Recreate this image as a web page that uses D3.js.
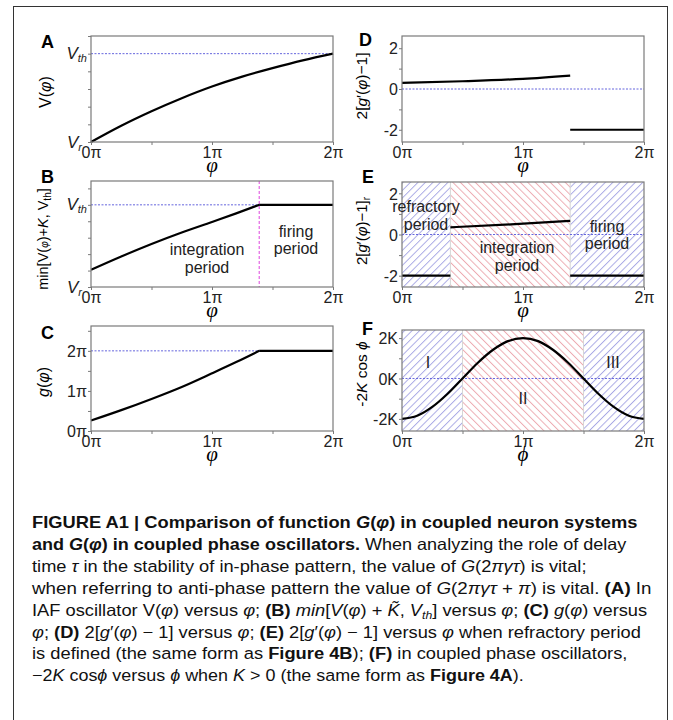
<!DOCTYPE html>
<html>
<head>
<meta charset="utf-8">
<script src="https://cdn.jsdelivr.net/npm/d3@7/dist/d3.min.js"></script>
<style>
  body { margin: 0; background: #fff; }
  svg { display: block; font-family: "Liberation Sans", Arial, sans-serif; }
</style>
</head>
<body>
<svg id="fig" width="673" height="720"></svg>
<script>
// phase axis, in units of pi
const phiTicks = [0, 0.5, 1, 1.5, 2];
const phiLabels = ["0π", "", "1π", "", "2π"];

// A: V(phi)
const phiA = [0, 0.25, 0.5, 0.75, 1, 1.25, 1.5, 1.75, 2];
const valA = [0, 0.92, 1.74, 2.48, 3.14, 3.7, 4.18, 4.62, 5];

// B: min[V(phi)+K, Vth]
const phiB = [0, 0.25, 0.5, 0.75, 1, 1.2, 1.39];
const valB = [1.05, 1.86, 2.62, 3.32, 3.96, 4.48, 5];
const phiB2 = [1.39, 2];
const valB2 = [5, 5];
const fireB = 1.39;

// C: g(phi), in units of pi
const phiC = [0, 0.25, 0.5, 0.75, 1, 1.2, 1.39];
const valC = [0.26, 0.52, 0.8, 1.1, 1.44, 1.72, 2];
const phiC2 = [1.39, 2];
const valC2 = [2, 2];

// D: 2[g'(phi)-1]
const phiD = [0, 0.5, 1, 1.39];
const valD = [0.3, 0.38, 0.5, 0.66];
const phiD2 = [1.39, 2];
const valD2 = [-2, -2];

// E: with refractory period
const phiE1 = [0, 0.4];
const valE1 = [-2, -2];
const phiE2 = [0.4, 0.9, 1.39];
const valE2 = [0.35, 0.49, 0.66];
const phiE3 = [1.39, 2];
const valE3 = [-2, -2];
const regionsE = [[0, 0.4, "blue"], [0.4, 1.39, "red"], [1.39, 2, "blue"]];

// F: -2K cos(phi)
const phiF = [0, 0.125, 0.25, 0.375, 0.5, 0.625, 0.75, 0.875, 1, 1.125, 1.25, 1.375, 1.5, 1.625, 1.75, 1.875, 2];
const valF = [-2, -1.85, -1.41, -0.77, 0, 0.77, 1.41, 1.85, 2, 1.85, 1.41, 0.77, 0, -0.77, -1.41, -1.85, -2];
const regionsF = [[0, 0.5, "blue"], [0.5, 1.5, "red"], [1.5, 2, "blue"]];

const svg = d3.select("#fig");

// outer frame
svg.append("rect").attr("x", 13.5).attr("y", 6.5).attr("width", 654).attr("height", 720)
    .attr("fill", "none").attr("stroke", "#333").attr("stroke-width", 1);

// hatch patterns
const defs = svg.append("defs");
function hatch(id, angle, color) {
    const p = defs.append("pattern").attr("id", id)
        .attr("patternUnits", "userSpaceOnUse")
        .attr("width", 5.3).attr("height", 10)
        .attr("patternTransform", `rotate(${angle})`);
    p.append("rect").attr("width", 5.3).attr("height", 10).attr("fill", "#fff");
    p.append("line").attr("x1", 0.5).attr("x2", 0.5).attr("y1", 0).attr("y2", 10)
        .attr("stroke", color).attr("stroke-width", 0.9);
}
hatch("blue", 45, "#a4a4e4");
hatch("red", -45, "#eca6ae");

function panel(p) {
    const x = d3.scaleLinear().domain([0, 2]).range([p.x0, p.x1]);
    const y = d3.scaleLinear().domain(p.yDomain).range([p.y1, p.y0]);
    const g = svg.append("g");

    if (p.regions) {
        p.regions.forEach(r => {
            g.append("rect").attr("x", x(r[0])).attr("y", p.y0)
                .attr("width", x(r[1]) - x(r[0])).attr("height", p.y1 - p.y0)
                .attr("fill", `url(#${r[2]})`);
        });
        p.regions.slice(1).forEach(r => {
            g.append("line").attr("x1", x(r[0])).attr("x2", x(r[0]))
                .attr("y1", p.y0).attr("y2", p.y1).attr("stroke", "#d6d6d6");
        });
    }

    // reference line
    g.append("line").attr("x1", p.x0).attr("x2", p.x1)
        .attr("y1", y(p.ref)).attr("y2", y(p.ref))
        .attr("stroke", "#6565dd").attr("stroke-width", 1).attr("stroke-dasharray", "2,1.5");
    if (p.vline != null) {
        g.append("line").attr("x1", x(p.vline)).attr("x2", x(p.vline))
            .attr("y1", p.y0).attr("y2", p.y1)
            .attr("stroke", "#dd44dd").attr("stroke-width", 1).attr("stroke-dasharray", "3,2");
    }

    const line = d3.line().x(d => x(d[0])).y(d => y(d[1])).curve(d3.curveMonotoneX);
    p.segments.forEach(s => {
        g.append("path").datum(d3.zip(s[0], s[1])).attr("d", line)
            .attr("fill", "none").attr("stroke", "#000").attr("stroke-width", 2.2);
    });

    // frame
    g.append("rect").attr("x", p.x0).attr("y", p.y0)
        .attr("width", p.x1 - p.x0).attr("height", p.y1 - p.y0)
        .attr("fill", "none").attr("stroke", "#7a7a7a").attr("stroke-width", 1.2);

    // x axis
    const xa = g.append("g").attr("transform", `translate(0,${p.y1})`)
        .call(d3.axisBottom(x).tickValues(phiTicks).tickSize(3)
            .tickFormat((d, i) => phiLabels[i]));
    xa.select(".domain").remove();
    xa.selectAll("line").attr("stroke", "#7a7a7a");
    xa.selectAll("text").attr("y", 16).attr("dy", null)
        .attr("font-size", 16).attr("font-family", "Liberation Sans, Arial, sans-serif").attr("fill", "#222");

    // y axis
    const ya = g.append("g").attr("transform", `translate(${p.x0},0)`)
        .call(d3.axisLeft(y).tickValues(p.yTicks).tickSize(3)
            .tickFormat((d, i) => p.yLabels ? p.yLabels[i] : ""));
    ya.select(".domain").remove();
    ya.selectAll("line").attr("stroke", "#7a7a7a");
    ya.selectAll("text").attr("x", -4).attr("dy", "0.36em")
        .attr("font-size", 16).attr("font-family", "Liberation Sans, Arial, sans-serif").attr("fill", "#222");

    // panel letter
    svg.append("text").attr("x", p.letter[1]).attr("y", p.letter[2])
        .attr("font-size", 18).attr("font-weight", "bold").text(p.letter[0]);

    // x title
    svg.append("text").attr("x", (p.x0 + p.x1) / 2).attr("y", p.y1 + 30)
        .attr("text-anchor", "middle").attr("font-family", "Liberation Serif, serif")
        .attr("font-style", "italic").attr("font-size", 21).text(p.xTitle);

    // y title
    const yt = svg.append("text")
        .attr("transform", `translate(${p.yTitle[0]},${p.yTitle[1]}) rotate(-90)`)
        .attr("text-anchor", "middle").attr("dy", "0.36em").attr("font-size", p.yTitle[3] || 16);
    p.yTitle[2].forEach(t => {
        const s = yt.append("tspan").text(t[0]);
        if (t[1].includes("i")) s.attr("font-style", "italic");
        if (t[1].includes("s")) s.attr("font-size", 10).attr("dy", t[1].includes("d") ? 3 : 0);
        if (t[1].includes("u")) s.attr("dy", -3);
    });
    return { x, y };
}

function vlabel(x, y, sub) {
    const t = svg.append("text").attr("x", x).attr("y", y).attr("text-anchor", "end")
        .attr("font-size", 17).attr("fill", "#222");
    t.append("tspan").attr("font-style", "italic").text("V");
    t.append("tspan").attr("font-size", 11).attr("font-style", "italic").attr("dy", 3).text(sub);
}

function label(lines, cx, y0, step) {
    const t = svg.append("text").attr("text-anchor", "middle").attr("font-size", 16).attr("fill", "#222");
    lines.forEach((l, i) => t.append("tspan").attr("x", cx).attr("y", y0 + i * step).text(l));
}

// A
const A = panel({
    x0: 91, x1: 333, y0: 36, y1: 142, yDomain: [0, 6], yTicks: [0, 1, 2, 3, 4, 5, 6],
    ref: 5, segments: [[phiA, valA]], letter: ["A", 41, 48], xTitle: "φ",
    yTitle: [45, 92, [["V(", ""], ["φ", "i"], [")", ""]]]
});
vlabel(87, A.y(5) + 5, "th");
vlabel(82, A.y(0) + 6, "r");

// B
const B = panel({
    x0: 91, x1: 333, y0: 181, y1: 287, yDomain: [0, 6.45], yTicks: [0, 1, 2, 3, 4, 5, 6],
    ref: 5, vline: fireB, segments: [[phiB, valB], [phiB2, valB2]], letter: ["B", 41, 183], xTitle: "φ",
    yTitle: [43, 239, [["min[V(", ""], ["φ", "is"], [")+", ""], ["K", "i"], [", V", ""], ["th", "sd"], ["]", "u"]], 14.5]
});
vlabel(87, B.y(5) + 5, "th");
vlabel(82, B.y(0) + 6, "r");
label(["integration", "period"], 207, 255, 18);
label(["firing", "period"], 296, 237, 17);

// C
panel({
    x0: 91, x1: 333, y0: 326, y1: 431, yDomain: [0, 2.62], yTicks: [0, 0.5, 1, 1.5, 2, 2.5],
    yLabels: ["0π", "", "1π", "", "2π", ""],
    ref: 2, segments: [[phiC, valC], [phiC2, valC2]], letter: ["C", 41, 339], xTitle: "φ",
    yTitle: [43, 382, [["g", "i"], ["(", ""], ["φ", "i"], [")", ""]]]
});

// D
panel({
    x0: 402, x1: 644, y0: 36, y1: 142, yDomain: [-2.6, 2.6], yTicks: [-2, -1, 0, 1, 2],
    yLabels: ["-2", "", "0", "", "2"],
    ref: 0, segments: [[phiD, valD], [phiD2, valD2]], letter: ["D", 359, 46], xTitle: "φ",
    yTitle: [361, 86, [["2[", ""], ["g", "i"], ["′(", ""], ["φ", "i"], [")−1]", ""]], 15.5]
});

// E
panel({
    x0: 402, x1: 644, y0: 182, y1: 287, yDomain: [-2.55, 2.55], yTicks: [-2, -1, 0, 1, 2],
    yLabels: ["-2", "", "0", "", "2"], regions: regionsE,
    ref: 0, segments: [[phiE1, valE1], [phiE2, valE2], [phiE3, valE3]], letter: ["E", 362, 183], xTitle: "φ",
    yTitle: [362, 231, [["2[", ""], ["g", "i"], ["′(", ""], ["φ", "i"], [")−1]", ""], ["r", "sd"]], 15]
});
label(["refractory", "period"], 426, 212, 18);
label(["integration", "period"], 517, 253, 18);
label(["firing", "period"], 607, 232, 17);

// F
panel({
    x0: 402, x1: 644, y0: 330, y1: 431, yDomain: [-2.6, 2.4], yTicks: [-2, -1, 0, 1, 2],
    yLabels: ["-2K", "", "0K", "", "2K"], regions: regionsF,
    ref: 0, segments: [[phiF, valF]], letter: ["F", 362, 335], xTitle: "ϕ",
    yTitle: [361, 374, [["-2", ""], ["K", "i"], [" cos ", ""], ["ϕ", "i"]], 15.5]
});
label(["I"], 428, 368, 0);
label(["II"], 523, 404, 0);
label(["III"], 613, 368, 0);

// caption
const captionLines = [
    [["FIGURE A1 | Comparison of function ", "b"], ["G", "bi"], ["(", "b"], ["φ", "bi"], [") in coupled neuron systems", "b"]],
    [["and ", "b"], ["G", "bi"], ["(", "b"], ["φ", "bi"], [") in coupled phase oscillators.", "b"], [" When analyzing the role of delay", ""]],
    [["time ", ""], ["τ", "i"], [" in the stability of in-phase pattern, the value of ", ""], ["G", "i"], ["(2", ""], ["πγτ", "i"], [") is vital;", ""]],
    [["when referring to anti-phase pattern the value of ", ""], ["G", "i"], ["(2", ""], ["πγτ", "i"], [" + ", ""], ["π", "i"], [") is vital. ", ""], ["(A)", "b"], [" In", ""]],
    [["IAF oscillator V(", ""], ["φ", "i"], [") versus ", ""], ["φ", "i"], ["; ", ""], ["(B) ", "b"], ["min", "i"], ["[", ""], ["V", "i"], ["(", ""], ["φ", "i"], [") + ", ""], ["K̃", "i"], [", ", ""], ["V", "i"], ["th", "is"], ["] versus ", "u"], ["φ", "i"], ["; ", ""], ["(C) ", "b"], ["g", "i"], ["(", ""], ["φ", "i"], [") versus", ""]],
    [["φ", "i"], ["; ", ""], ["(D)", "b"], [" 2[", ""], ["g", "i"], ["′(", ""], ["φ", "i"], [") − 1] versus ", ""], ["φ", "i"], ["; ", ""], ["(E)", "b"], [" 2[", ""], ["g", "i"], ["′(", ""], ["φ", "i"], [") − 1] versus ", ""], ["φ", "i"], [" when refractory period", ""]],
    [["is defined (the same form as ", ""], ["Figure 4B", "b"], ["); ", ""], ["(F)", "b"], [" in coupled phase oscillators,", ""]],
    [["−2", ""], ["K", "i"], [" cos", ""], ["ϕ", "i"], [" versus ", ""], ["ϕ", "i"], [" when ", ""], ["K", "i"], [" > 0 (the same form as ", ""], ["Figure 4A", "b"], [").", ""]]
];
const captionRight = [638, 627, 587, 652, 648, 641, 628, 524];
const captionLeft = 32, captionTop = 528, captionStep = 21.9;

captionLines.forEach((parts, i) => {
    const g = svg.append("g");
    const t = g.append("text").attr("x", 0).attr("y", 0)
        .attr("font-family", "Liberation Sans Narrow, Liberation Sans, Arial, sans-serif")
        .attr("font-size", 16.5).attr("fill", "#111");
    parts.forEach(pp => {
        const s = t.append("tspan").text(pp[0]);
        if (pp[1].includes("b")) s.attr("font-weight", "bold");
        if (pp[1].includes("i")) s.attr("font-style", "italic");
        if (pp[1].includes("s")) s.attr("font-size", 11).attr("dy", 3);
        if (pp[1].includes("u")) s.attr("dy", -3);
    });
    const w = t.node().getComputedTextLength();
    const sx = (captionRight[i] - captionLeft) / w;
    g.attr("transform", `translate(${captionLeft},${captionTop + i * captionStep}) scale(${sx},1)`);
});
</script>
</body>
</html>
